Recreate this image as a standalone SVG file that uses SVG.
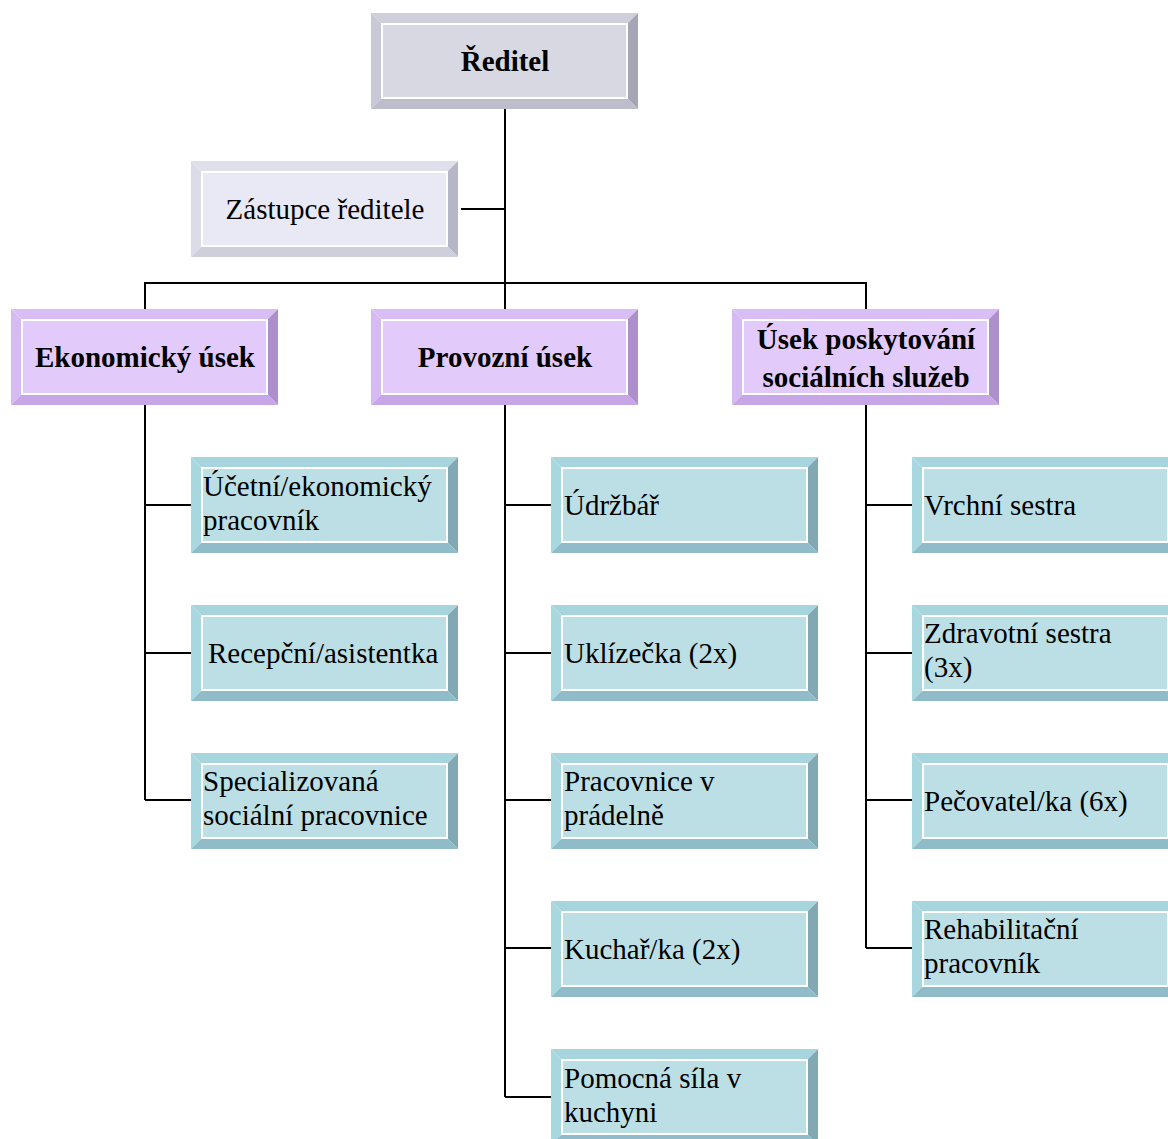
<svg xmlns="http://www.w3.org/2000/svg" width="1168" height="1139" viewBox="0 0 1168 1139" font-family="'Liberation Serif', 'Times New Roman', 'DejaVu Serif', serif">
<style>
text{font-family:'Liberation Serif','Times New Roman','DejaVu Serif',serif;font-size:29px;fill:#000}
.b{font-weight:bold}
.c{text-anchor:middle}
.bt{fill:var(--t)}.bl{fill:var(--l)}.br{fill:var(--r)}.bb{fill:var(--b)}
.bi{fill:var(--i);stroke:#fff;stroke-width:2}
.g{--t:#cfcfdb;--l:#c8c8d6;--r:#a6a5b6;--b:#bdbdcb;--i:#d8d8e3}
.z{--t:#e0e0ec;--l:#dcdce9;--r:#b7b6c6;--b:#cfcfdc;--i:#e9e9f5}
.p{--t:#d9bdf5;--l:#d6bbf2;--r:#ad8fcb;--b:#c6a6e6;--i:#e2cbfb}
.q{--t:#a7d5dd;--l:#a9d7df;--r:#82a9b3;--b:#8fbcc8;--i:#bcdfe5}
.ln{stroke:#000;stroke-width:2;fill:none}
</style>
<defs>
<g id="bev">
<polygon class="bt" points="0,0 267,0 256,11 11,11"/>
<polygon class="bl" points="0,0 11,11 11,85 0,96"/>
<polygon class="br" points="267,0 267,96 256,85 256,11"/>
<polygon class="bb" points="0,96 11,85 256,85 267,96"/>
<rect class="bi" x="11" y="11" width="245" height="74"/>
</g>
</defs>
<g id="connectors">
<path class="ln" d="M505,109 V309 M461,209 H505 M145,309 V283 H866 V309"/>
<path class="ln" d="M145,405 V800 M145,505 H191 M145,653 H191 M145,800 H191"/>
<path class="ln" d="M505,405 V1097 M505,505 H551 M505,653 H551 M505,800 H551 M505,948 H551 M505,1097 H551"/>
<path class="ln" d="M866,405 V948 M866,505 H912 M866,653 H912 M866,800 H912 M866,948 H912"/>
</g>
<g id="reditel" class="g"><use href="#bev" x="371" y="13"/>
<text class="b c" x="505" y="71">Ředitel</text></g>
<g id="zastupce" class="z"><use href="#bev" x="191" y="161"/>
<text class="c" x="325" y="219">Zástupce ředitele</text></g>
<g id="ekonomicky" class="p"><use href="#bev" x="11" y="309"/>
<text class="b c" x="145" y="367">Ekonomický úsek</text></g>
<g id="provozni" class="p"><use href="#bev" x="371" y="309"/>
<text class="b c" x="505" y="367">Provozní úsek</text></g>
<g id="usek" class="p"><use href="#bev" x="732" y="309"/>
<text class="b c" x="866" y="349">Úsek poskytování</text>
<text class="b c" x="866" y="387">sociálních služeb</text></g>

<g id="ucetni" class="q"><use href="#bev" x="191" y="457"/>
<text x="203" y="496">Účetní/ekonomický</text><text x="203" y="530">pracovník</text></g>
<g id="recepcni" class="q"><use href="#bev" x="191" y="605"/>
<text x="208" y="663">Recepční/asistentka</text></g>
<g id="specializovana" class="q"><use href="#bev" x="191" y="753"/>
<text x="203" y="791">Specializovaná</text><text x="203" y="825">sociální pracovnice</text></g>

<g id="udrzbar" class="q"><use href="#bev" x="551" y="457"/>
<text x="564" y="515">Údržbář</text></g>
<g id="uklizecka" class="q"><use href="#bev" x="551" y="605"/>
<text x="564" y="663">Uklízečka (2x)</text></g>
<g id="pradelna" class="q"><use href="#bev" x="551" y="753"/>
<text x="564" y="791">Pracovnice v</text><text x="564" y="825">prádelně</text></g>
<g id="kuchar" class="q"><use href="#bev" x="551" y="901"/>
<text x="564" y="959">Kuchař/ka (2x)</text></g>
<g id="pomocna" class="q"><use href="#bev" x="551" y="1049"/>
<text x="564" y="1088">Pomocná síla v</text><text x="564" y="1122">kuchyni</text></g>

<g id="vrchni" class="q"><use href="#bev" x="912" y="457"/>
<text x="924" y="515">Vrchní sestra</text></g>
<g id="zdravotni" class="q"><use href="#bev" x="912" y="605"/>
<text x="924" y="643">Zdravotní sestra</text><text x="924" y="677">(3x)</text></g>
<g id="pecovatel" class="q"><use href="#bev" x="912" y="753"/>
<text x="924" y="811">Pečovatel/ka (6x)</text></g>
<g id="rehabilitacni" class="q"><use href="#bev" x="912" y="901"/>
<text x="924" y="939">Rehabilitační</text><text x="924" y="973">pracovník</text></g>
</svg>
